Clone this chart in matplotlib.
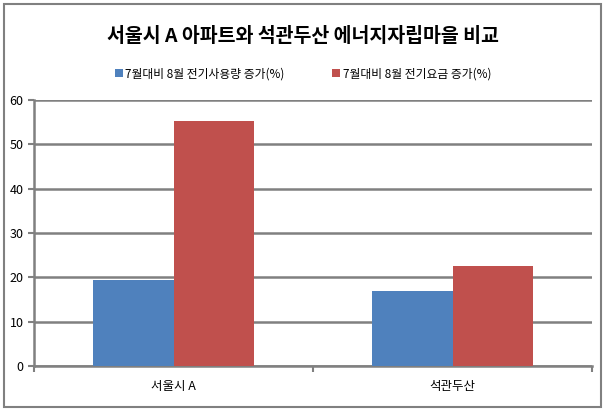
import matplotlib.pyplot as plt
import numpy as np
from matplotlib.patches import Rectangle

plt.rcParams['font.family'] = ['Noto Sans CJK KR', 'DejaVu Sans']

# data
categories = ['서울시 A', '석관두산']
usage = [19.4, 16.9]      # 7월대비 8월 전기사용량 증가(%)
charge = [55.2, 22.6]     # 7월대비 8월 전기요금 증가(%)
series_names = ['7월대비 8월 전기사용량 증가(%)', '7월대비 8월 전기요금 증가(%)']

fig = plt.figure(figsize=(6.06, 4.11), dpi=100)
W, H = 606, 411
ax = fig.add_axes([34 / W, 1 - 366 / H, (592 - 34) / W, (366 - 100) / H])

x = np.arange(len(categories))
w = 0.287
ax.bar(x - w / 2, usage, w, color='#4F81BD', label=series_names[0], zorder=3)
ax.bar(x + w / 2, charge, w, color='#C0504D', label=series_names[1], zorder=3)

ax.set_ylim(0, 60)
ax.set_yticks(range(0, 61, 10))
ax.set_xlim(-0.5, 1.5)
ax.set_xticks(x)
ax.set_xticklabels(categories, fontsize=9)
ax.set_xticks([-0.5, 0.5, 1.5], minor=True)
ax.tick_params(axis='x', which='major', length=0, pad=10)
ax.tick_params(axis='x', which='minor', length=4, color='#808080', width=1.5, direction='out')
ax.tick_params(axis='y', length=4, color='#808080', width=1.5, labelsize=9)

ax.grid(axis='y', color='#808080', linewidth=1.8, zorder=0)
for s in ['top', 'right']:
    ax.spines[s].set_visible(False)
for s in ['left', 'bottom']:
    ax.spines[s].set_color('#808080')
    ax.spines[s].set_linewidth(1.8)

fig.text(0.5, 1 - 37 / H, '서울시 A 아파트와 석관두산 에너지자립마을 비교',
         ha='center', va='center', fontsize=14, fontweight='bold')
fig.legend(loc='center', bbox_to_anchor=(0.5, 1 - 74 / H), ncol=2, frameon=False,
           fontsize=8.5, handlelength=0.7, handleheight=0.7, handletextpad=0.2,
           columnspacing=4)

# outer chart border
fig.add_artist(Rectangle((4 / W, 4 / H), 597 / W, 403 / H, transform=fig.transFigure,
                         fill=False, edgecolor='#808080', linewidth=1.5))

fig.savefig('out.png', dpi=100)
